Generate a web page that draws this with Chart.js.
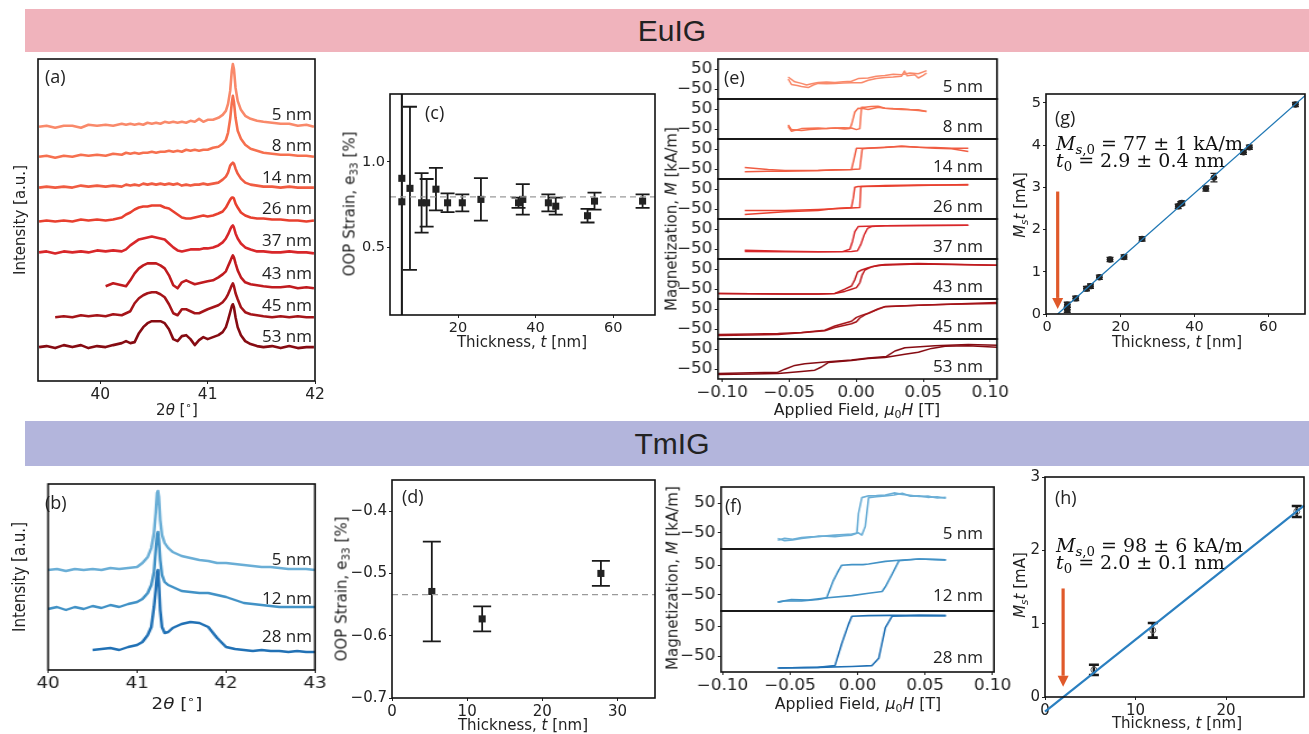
<!DOCTYPE html>
<html>
<head>
<meta charset="utf-8">
<title>EuIG / TmIG</title>
<script src="https://cdn.jsdelivr.net/npm/chart.js@4.4.1/dist/chart.umd.min.js"></script>
<style>
  html, body { margin: 0; padding: 0; background: #fff; }
  #fig { position: relative; width: 1309px; height: 734px; overflow: hidden; font-family: 'DejaVu Sans', sans-serif; color: #222; }
  #fig canvas { position: absolute; }
  .t { position: absolute; white-space: nowrap; font-size: 15px; line-height: 1; }
  .t sub { font-size: 70%; vertical-align: -0.3em; line-height: 0; }
  .t sup { font-size: 70%; vertical-align: 0.55em; line-height: 0; }
  .band { position: absolute; left: 25px; right: 0; }
  .math { font-family: 'DejaVu Serif', serif; font-size: 19px; line-height: 17px; color: #111; }
</style>
</head>
<body>
<div id="fig">
  <div class="band" style="top:9px;height:43px;background:#f0b3bc"></div>
  <div class="band" style="top:421px;height:45px;background:#b3b5dc"></div>
</div>
<script>
// ---- (a) EuIG XRD, 2theta grid and stacked intensities (a.u.) ----
const thetaA = [39.43, 39.50, 39.58, 39.66, 39.74, 39.82, 39.89, 39.97, 40.05, 40.12, 40.20,
  40.24, 40.28, 40.32, 40.36, 40.40, 40.44, 40.48, 40.52, 40.56, 40.60, 40.64, 40.68, 40.72,
  40.76, 40.80, 40.84, 40.88, 40.92, 40.96, 41.00, 41.05, 41.10, 41.14, 41.17, 41.19, 41.21,
  41.225, 41.235, 41.245, 41.26, 41.28, 41.31, 41.35, 41.40, 41.46, 41.52, 41.60, 41.68,
  41.76, 41.84, 41.92, 41.99];
const xrdEu5 = [255,256,254,256,256,254,257,256,257,256,258,257,258,257,258,257,259,258,259,258,260,259,260,259,260,259,261,260,263,260,262,262,264,267,271,278,291,311,318,313,294,281,272,266,263,261,260,259,258,258,256,257,255];
const xrdEu8 = [225,226,224,226,225,227,226,227,226,228,227,229,228,229,228,229,229,230,229,230,230,231,230,231,230,232,231,232,231,232,232,234,235,238,242,249,263,279,286,280,264,251,243,237,233,231,229,228,227,227,226,226,225];
const xrdEu14 = [194,195,194,195,194,196,195,196,195,196,195,197,196,197,196,198,197,198,197,198,197,198,197,198,196,197,196,197,197,198,197,198,199,202,205,209,216,218,219,218,213,208,203,199,197,196,195,195,194,195,194,194,194];
const xrdEu26 = [160,161,160,161,160,162,161,162,161,162,164,167,169,172,174,175,175,176,176,176,174,173,170,167,164,163,163,164,165,166,165,166,168,170,174,178,182,184,184,183,178,174,169,166,164,163,163,162,162,161,161,160,161];
const xrdEu37 = [129,130,128,130,129,130,129,131,130,131,130,132,136,139,142,143,144,145,144,143,142,138,134,131,130,131,132,132,132,133,133,134,136,139,143,147,152,155,156,154,148,143,138,134,132,130,130,129,129,130,129,129,128];
const xrdEu43 = [null,null,null,null,null,null,null,null,95,98,96,95,101,108,113,116,118,118,118,116,113,106,96,93,99,101,99,97,98,99,100,101,104,107,110,115,120,124,126,124,118,111,104,99,97,96,95,94,94,95,93,94,93];
const xrdEu45 = [null,null,64,65,64,66,65,66,65,67,66,68,70,78,83,86,88,89,89,87,84,77,68,66,72,72,70,68,68,70,72,74,76,79,83,87,92,96,98,95,88,82,74,69,67,66,65,64,65,64,65,64,64];
const xrdEu53 = [34,35,33,36,34,36,33,35,34,36,38,40,38,39,48,54,58,60,60,60,58,52,42,40,45,46,42,36,41,44,42,44,46,49,54,61,69,75,77,74,64,54,46,40,37,35,34,35,33,35,33,34,34];
const thickEu = ['5 nm', '8 nm', '14 nm', '26 nm', '37 nm', '43 nm', '45 nm', '53 nm'];

// ---- (b) TmIG XRD ----
const thetaB = [40.0, 40.1, 40.2, 40.3, 40.4, 40.5, 40.6, 40.7, 40.8, 40.9, 41.0, 41.06, 41.12,
  41.16, 41.19, 41.21, 41.225, 41.235, 41.245, 41.26, 41.28, 41.31, 41.35, 41.40, 41.45, 41.5,
  41.6, 41.7, 41.8, 41.9, 42.0, 42.1, 42.2, 42.3, 42.4, 42.5, 42.6, 42.7, 42.8, 42.9, 43.0];
const xrdTm5 = [100,101,99,101,100,101,100,102,101,102,103,107,113,122,137,157,177,179,173,150,135,127,122,118,116,114,112,110,109,107,107,106,105,104,103,103,102,101,101,101,100];
const xrdTm12 = [61,63,60,63,61,64,62,65,63,66,68,71,77,85,98,120,135,138,130,110,95,88,85,83,81,79,78,77,77,75,73,70,67,66,65,64,63,63,63,63,63];
const xrdTm28 = [null,null,null,null,null,20,21,22,20,23,25,28,35,43,63,80,97,100,87,60,43,37,38,42,44,46,48,47,43,32,23,21,20,19,20,19,19,18,19,18,18];
const thickTm = ['5 nm', '12 nm', '28 nm'];

// ---- (c) EuIG OOP strain ----
const tC = [5.5, 5.5, 7.6, 10.6, 11.9, 14.3, 17.3, 21.1, 25.9, 35.6, 36.7, 43.3, 45.2, 53.4, 55.2, 67.6];
const strainC = [0.904, 0.766, 0.845, 0.76, 0.76, 0.84, 0.76, 0.76, 0.78, 0.76, 0.78, 0.76, 0.74, 0.684, 0.77, 0.77];
const strainErrC = [1.2, 1.5, 0.48, 0.175, 0.14, 0.125, 0.055, 0.05, 0.125, 0.03, 0.09, 0.05, 0.05, 0.04, 0.05, 0.04];
const meanStrainC = 0.795;

// ---- (d) TmIG OOP strain ----
const tD = [5.3, 12.0, 27.8];
const strainD = [-0.529, -0.573, -0.50];
const strainErrD = [0.08, 0.02, 0.02];
const meanStrainD = -0.534;

// ---- (e) EuIG hysteresis loops [field T, M kA/m] ----
const e5Desc = [[0.0525,42],[0.0463,26],[0.0400,30],[0.0338,21],[0.0276,24],[0.0214,18],[0.0150,14],[0.0090,5],[0.0015,2],[-0.0035,-11],[-0.0097,-14],[-0.0159,-18],[-0.0221,-15],[-0.0284,-18],[-0.0333,-24],[-0.0370,-30],[-0.0408,-22],[-0.0458,-14],[-0.0507,10]];
const e5Asc = [[-0.0507,0],[-0.0483,-27],[-0.0440,-33],[-0.0408,-38],[-0.0358,-43],[-0.0320,-30],[-0.0284,-22],[-0.0221,-24],[-0.0159,-22],[-0.0097,-20],[-0.0035,-19],[0.0040,-19],[0.0090,-6],[0.0150,2],[0.0214,8],[0.0276,10],[0.0338,14],[0.0360,40],[0.0380,16],[0.0438,21],[0.0463,5],[0.0500,18],[0.0525,30]];
const e8Desc = [[0.0525,38],[0.0463,43],[0.0400,46],[0.0338,48],[0.0276,50],[0.0214,54],[0.0164,59],[0.0090,48],[0.0050,52],[0.0015,54],[-0.0010,35],[-0.0035,-29],[-0.0047,-48],[-0.0085,-50],[-0.0159,-45],[-0.0221,-48],[-0.0284,-50],[-0.0346,-52],[-0.0408,-58],[-0.0483,-53],[-0.0507,-29]];
const e8Asc = [[-0.0507,-37],[-0.0483,-61],[-0.0408,-48],[-0.0346,-46],[-0.0284,-45],[-0.0221,-47],[-0.0159,-45],[-0.0097,-44],[-0.0035,-45],[0.0002,-53],[0.0027,-48],[0.0040,59],[0.0065,59],[0.0110,62],[0.0164,64],[0.0214,54],[0.0276,52],[0.0338,51],[0.0400,48],[0.0463,46],[0.0525,38]];
const e14Desc = [[0.0836,54],[0.0711,54],[0.0587,57],[0.0463,59],[0.0338,64],[0.0214,59],[0.0065,54],[0.0002,54],[-0.0015,3],[-0.0035,-53],[-0.0159,-54],[-0.0284,-58],[-0.0532,-61],[-0.0657,-61],[-0.0831,-64]];
const e14Asc = [[-0.0831,-42],[-0.0657,-53],[-0.0532,-58],[-0.0284,-58],[-0.0035,-53],[0.0027,-50],[0.0045,51],[0.0090,54],[0.0214,58],[0.0338,64],[0.0463,59],[0.0587,54],[0.0711,51],[0.0836,38]];
const e26Desc = [[0.0836,72],[0.0463,67],[0.0214,64],[0.0015,62],[-0.0010,59],[-0.0022,3],[-0.0035,-42],[-0.0159,-48],[-0.0284,-58],[-0.0532,-64],[-0.0831,-77]];
const e26Asc = [[-0.0831,-58],[-0.0532,-58],[-0.0284,-53],[-0.0035,-45],[0.0027,-42],[0.0035,62],[0.0214,67],[0.0463,70],[0.0836,70]];
const e37Desc = [[0.0836,69],[0.0463,67],[0.0214,66],[0.0015,62],[-0.0010,37],[-0.0027,-11],[-0.0047,-51],[-0.0097,-62],[-0.0284,-64],[-0.0532,-64],[-0.0831,-62]];
const e37Asc = [[-0.0831,-56],[-0.0532,-61],[-0.0284,-64],[-0.0035,-62],[0.0010,-59],[0.0035,-27],[0.0060,21],[0.0085,53],[0.0114,62],[0.0214,66],[0.0463,67],[0.0836,69]];
const e43Desc = [[0.1052,69],[0.0711,74],[0.0463,77],[0.0214,72],[0.0164,69],[0.0090,56],[0.0040,45],[0.0010,34],[-0.0010,-3],[-0.0035,-35],[-0.0085,-51],[-0.0159,-72],[-0.0284,-75],[-0.0532,-75],[-0.1030,-72]];
const e43Asc = [[-0.1030,-72],[-0.0532,-75],[-0.0284,-75],[-0.0159,-72],[-0.0085,-62],[-0.0035,-51],[0.0002,-43],[0.0027,-19],[0.0045,21],[0.0065,45],[0.0114,61],[0.0189,69],[0.0463,75],[0.1052,69]];
const e45Desc = [[0.1052,77],[0.0711,74],[0.0463,69],[0.0214,61],[0.0164,50],[0.0090,29],[0.0040,18],[0.0002,8],[-0.0035,-11],[-0.0159,-35],[-0.0234,-56],[-0.0408,-67],[-0.0582,-72],[-0.0781,-75],[-0.1030,-78]];
const e45Asc = [[-0.1030,-83],[-0.0781,-80],[-0.0582,-78],[-0.0408,-69],[-0.0234,-59],[-0.0159,-43],[-0.0035,-24],[0.0002,-14],[0.0027,5],[0.0065,21],[0.0164,50],[0.0214,62],[0.0463,69],[0.1052,82]];
const e53Desc = [[0.1052,69],[0.0836,72],[0.0587,66],[0.0363,56],[0.0289,40],[0.0226,13],[0.0090,5],[-0.0035,-5],[-0.0209,-14],[-0.0383,-24],[-0.0458,-32],[-0.0532,-51],[-0.0582,-66],[-0.0781,-69],[-0.1030,-72]];
const e53Asc = [[-0.1030,-78],[-0.0781,-75],[-0.0582,-72],[-0.0408,-62],[-0.0308,-56],[-0.0259,-40],[-0.0209,-18],[-0.0035,-8],[0.0090,2],[0.0214,8],[0.0363,24],[0.0463,34],[0.0562,53],[0.0662,64],[0.0836,66],[0.1052,59]];

// ---- (f) TmIG hysteresis loops ----
const f5Asc = [[-0.059,-75],[-0.054,-69],[-0.048,-72],[-0.0415,-66],[-0.035,-64],[-0.029,-63],[-0.023,-60],[-0.0167,-58],[-0.010,-56],[-0.0042,-54],[0.0007,-50],[0.0032,-58],[0.0057,-29],[0.0082,69],[0.014,72],[0.0206,75],[0.027,78],[0.0331,84],[0.039,74],[0.0455,75],[0.052,70],[0.059,72],[0.0654,67]];
const f5Desc = [[0.0654,70],[0.059,68],[0.052,74],[0.0455,73],[0.039,77],[0.0331,80],[0.027,85],[0.0206,78],[0.014,76],[0.0082,75],[0.0032,69],[0.0007,16],[-0.0005,-52],[-0.0042,-58],[-0.010,-60],[-0.0167,-63],[-0.023,-62],[-0.029,-61],[-0.035,-66],[-0.0415,-69],[-0.048,-74],[-0.054,-77],[-0.059,-69]];
const f12Asc = [[-0.059,-75],[-0.054,-70],[-0.049,-66],[-0.0366,-68],[-0.0241,-61],[-0.0042,-53],[0.0082,-45],[0.0182,-39],[0.0206,-23],[0.0256,20],[0.0306,65],[0.0455,71],[0.0654,68]];
const f12Desc = [[0.0654,68],[0.0455,71],[0.0306,67],[0.0206,63],[0.0082,54],[0.0040,52],[-0.0042,52],[-0.0117,50],[-0.0142,31],[-0.0179,-2],[-0.0229,-61],[-0.0291,-66],[-0.0415,-71],[-0.054,-71],[-0.059,-75]];
const f28Asc = [[-0.059,-91],[-0.0291,-89],[-0.0042,-86],[0.0107,-83],[0.0157,-58],[0.0206,48],[0.0256,87],[0.0455,90],[0.0654,89]];
const f28Desc = [[0.0654,89],[0.0256,90],[0.0082,89],[-0.0042,87],[-0.0067,59],[-0.0117,-8],[-0.0167,-83],[-0.0291,-89],[-0.059,-91]];

// ---- (g) EuIG Ms*t vs thickness ----
const tG = [5.5, 5.5, 7.8, 10.7, 11.8, 14.2, 17.1, 20.9, 25.8, 35.6, 36.3, 36.6, 43.1, 45.3, 53.3, 54.9, 67.4];
const mstG = [0.22, 0.10, 0.37, 0.60, 0.66, 0.87, 1.29, 1.35, 1.78, 2.55, 2.61, 2.63, 2.97, 3.23, 3.83, 3.95, 4.96];
const mstErrG = [0.06, 0.06, 0.05, 0.05, 0.05, 0.05, 0.05, 0.05, 0.05, 0.05, 0.05, 0.05, 0.06, 0.1, 0.05, 0.05, 0.05];
const fitGt = [2.9, 70];
const fitGm = [0, 5.17];

// ---- (h) TmIG Ms*t vs thickness ----
const tH = [5.4, 11.9, 27.8];
const mstH = [0.37, 0.91, 2.53];
const mstErrH = [0.07, 0.1, 0.075];
const fitHt = [0, 28.6];
const fitHm = [-0.2, 2.61];

// tick values
const xTicksA = [40, 41, 42], xTicksB = [40, 41, 42, 43];
const xTicksC = [20, 40, 60], yTicksC = [0.5, 1.0];
const xTicksD = [0, 10, 20, 30], yTicksD = [-0.7, -0.6, -0.5, -0.4];
const fieldTicks = [-0.10, -0.05, 0, 0.05, 0.10], mTicks = [-50, 50];
const xTicksG = [0, 20, 40, 60], yTicksG = [0, 1, 2, 3, 4, 5];
const xTicksH = [0, 10, 20], yTicksH = [0, 1, 2, 3];

const reds = ['#f9896a', '#f6704f', '#f05c42', '#e8402f', '#d8272a', '#c01b1f', '#a51419', '#860b12'];
const blues = ['#6aaed6', '#4292c6', '#2171b5'];
const INK = '#222';
const ARROW = '#e0592a';

const fig = document.getElementById('fig');

// frame on all four sides, like matplotlib spines
const framePlugin = {
  id: 'frame',
  afterDraw(chart) {
    const { ctx, chartArea: a } = chart;
    ctx.save();
    ctx.strokeStyle = '#111';
    ctx.lineWidth = 1.6;
    ctx.strokeRect(a.left, a.top, a.right - a.left, a.bottom - a.top);
    ctx.restore();
  }
};

// vertical (and optional horizontal) error bars read from dataset.yErr / xErr
const errorPlugin = {
  id: 'errbars',
  beforeDatasetsDraw(chart) {
    const { ctx, chartArea: a, scales: { x, y } } = chart;
    ctx.save();
    ctx.beginPath();
    ctx.rect(a.left, a.top, a.right - a.left, a.bottom - a.top);
    ctx.clip();
    chart.data.datasets.forEach(ds => {
      if (!ds.yErr) return;
      ctx.strokeStyle = ds.errColor || '#111';
      ctx.lineWidth = ds.errWidth || 1.5;
      const cap = ds.capHalf || 6;
      ds.data.forEach((p, i) => {
        const px = x.getPixelForValue(p.x);
        const hi = y.getPixelForValue(p.y + ds.yErr[i]);
        const lo = y.getPixelForValue(p.y - ds.yErr[i]);
        ctx.beginPath();
        ctx.moveTo(px, hi); ctx.lineTo(px, lo);
        ctx.moveTo(px - cap, hi); ctx.lineTo(px + cap, hi);
        ctx.moveTo(px - cap, lo); ctx.lineTo(px + cap, lo);
        if (ds.xErr) {
          const py = y.getPixelForValue(p.y);
          ctx.moveTo(x.getPixelForValue(p.x - ds.xErr), py);
          ctx.lineTo(x.getPixelForValue(p.x + ds.xErr), py);
        }
        ctx.stroke();
      });
    });
    ctx.restore();
  }
};

// downward arrow at t0
const arrowPlugin = {
  id: 'arrow',
  afterDatasetsDraw(chart, args, o) {
    if (!o || o.x === undefined) return;
    const { ctx, scales: { x, y } } = chart;
    const px = x.getPixelForValue(o.x);
    const y0 = y.getPixelForValue(o.from), y1 = y.getPixelForValue(o.to);
    ctx.save();
    ctx.strokeStyle = ctx.fillStyle = o.color;
    ctx.lineWidth = o.width;
    ctx.beginPath(); ctx.moveTo(px, y0); ctx.lineTo(px, y1 - o.head); ctx.stroke();
    ctx.beginPath();
    ctx.moveTo(px - o.head * 0.5, y1 - o.head);
    ctx.lineTo(px + o.head * 0.5, y1 - o.head);
    ctx.lineTo(px, y1);
    ctx.closePath(); ctx.fill();
    ctx.restore();
  }
};

const fmt = d => v => (v < 0 ? '\u2212' : '') + Math.abs(v).toFixed(d);

function axis(min, max, ticks, cb, show = true, size = 15) {
  return {
    type: 'linear', min, max,
    afterBuildTicks: s => { s.ticks = ticks.map(v => ({ value: v })); },
    border: { display: false },
    grid: { display: show, drawOnChartArea: false, tickLength: 3, color: INK, lineWidth: 1 },
    ticks: { display: show, padding: 2, color: INK, font: { family: 'DejaVu Sans', size },
             maxRotation: 0, autoSkip: false, callback: cb || (v => v) }
  };
}

// box = plot area in page pixels, pad = [left, top, right, bottom] room around it
// (top/bottom >= 12 so Chart.js does not shrink the area for the y tick labels).
// sx > 1 draws on a narrower canvas that css stretches sideways, as the source panels were.
function makeChart(box, pad, datasets, xs, ys, plugOpts = {}, sx = 1) {
  const c = document.createElement('canvas');
  const w = box.w + pad[0] + pad[2], h = box.h + pad[1] + pad[3];
  c.width = Math.round(w / sx); c.height = h;
  c.style.left = (box.x - pad[0]) + 'px';
  c.style.top = (box.y - pad[1]) + 'px';
  c.style.width = w + 'px';
  c.style.height = h + 'px';
  fig.appendChild(c);
  xs.afterFit = s => { s.height = pad[3]; };
  ys.afterFit = s => { s.width = pad[0] / sx; };
  return new Chart(c, {
    type: 'scatter',
    data: { datasets },
    options: {
      responsive: false, animation: false, events: [],
      layout: { padding: { left: 0, top: pad[1], right: pad[2] / sx, bottom: 0 } },
      scales: { x: xs, y: ys },
      plugins: Object.assign({ legend: { display: false }, tooltip: { enabled: false } }, plugOpts)
    },
    plugins: [errorPlugin, arrowPlugin, framePlugin]
  });
}

function line(points, color, width, extra = {}) {
  return Object.assign({ data: points, showLine: true, borderColor: color, borderWidth: width,
    pointRadius: 0, tension: 0, borderJoinStyle: 'round' }, extra);
}
const curve = (xs, ys) => xs.map((x, i) => ({ x, y: ys[i] })).filter(p => p.y !== null);
const pairs = arr => arr.map(([x, y]) => ({ x, y }));

function txt(html, x, y, o = {}) {
  const d = document.createElement('div');
  d.className = 't' + (o.cls ? ' ' + o.cls : '');
  d.innerHTML = html;
  d.style.left = x + 'px';
  d.style.top = y + 'px';
  if (o.size) d.style.fontSize = o.size + 'px';
  if (o.font) d.style.fontFamily = o.font;
  const ax = o.align === 'right' ? '-100%' : o.align === 'left' ? '0' : '-50%';
  const ay = o.top ? '0' : '-50%';
  d.style.transform = `translate(${ax},${ay})` + (o.sx ? ` scale(${o.sx},1)` : '') + (o.rot ? ' rotate(-90deg)' : '');
  fig.appendChild(d);
}
const LBL = { size: 17, font: "'Open Sans', sans-serif", align: 'right' };
const LET = { size: 18, font: "'Open Sans', sans-serif", align: 'left' };

// banners
txt('EuIG', 672, 31, { size: 30, font: "'Liberation Sans', Arial, sans-serif" });
txt('TmIG', 672, 444, { size: 30, font: "'Liberation Sans', Arial, sans-serif" });

// (a)
const xrdEu = [xrdEu5, xrdEu8, xrdEu14, xrdEu26, xrdEu37, xrdEu43, xrdEu45, xrdEu53];
makeChart({ x: 38, y: 59, w: 277, h: 322 }, [4, 4, 14, 24],
  xrdEu.map((c, i) => line(curve(thetaA, c), reds[i], 2.6)),
  axis(39.42, 42, xTicksA, fmt(0), true, 15.5), axis(0, 323, [], null, false));
const labelYA = [113, 144, 176, 207, 239, 272, 304, 335];
thickEu.forEach((s, i) => txt(s, 312, labelYA[i], LBL));
txt('(a)', 45, 76, LET);
txt('Intensity [a.u.]', 20, 220, { rot: true });
txt('2<i>θ</i> [<sup>∘</sup>]', 177, 410);

// (b) - source panel is stretched sideways
const SXB = 1.22;
const xrdTm = [xrdTm5, xrdTm12, xrdTm28];
makeChart({ x: 38, y: 484, w: 277, h: 186 }, [4, 4, 18, 24],
  xrdTm.map((c, i) => line(curve(thetaB, c), blues[i], 2.4)),
  axis(40, 43, xTicksB, fmt(0)), axis(0, 186, [], null, false), {}, SXB);
const labelYB = [558, 597, 635];
thickTm.forEach((s, i) => txt(s, 312, labelYB[i], LBL));
txt('(b)', 45, 502, LET);
txt('Intensity [a.u.]', 20, 577, { rot: true, sx: SXB });
txt('2<i>θ</i> [<sup>∘</sup>]', 177, 704, { sx: SXB });

// (c)
const rangeC = [2.45, 70.8];
makeChart({ x: 390, y: 94, w: 265, h: 221 }, [40, 12, 14, 24], [
  line(rangeC.map(x => ({ x, y: meanStrainC })), '#9a9a9a', 1.2, { borderDash: [6, 4] }),
  { data: curve(tC, strainC), pointStyle: 'rect', pointRadius: 5, backgroundColor: '#222', borderWidth: 0,
    yErr: strainErrC, capHalf: 7, errWidth: 1.8, errColor: '#1a1a1a' }
], axis(rangeC[0], rangeC[1], xTicksC, fmt(0), true, 14.5), axis(0.1, 1.4, yTicksC, fmt(1), true, 14.5));
txt('(c)', 425, 112, LET);
txt('OOP Strain, e<sub>33</sub> [%]', 350, 204, { rot: true });
txt('Thickness, <i>t</i> [nm]', 522, 342);

// (d)
const rangeD = [0, 35];
makeChart({ x: 392, y: 480, w: 263, h: 218 }, [48, 12, 14, 24], [
  line(rangeD.map(x => ({ x, y: meanStrainD })), '#9a9a9a', 1.2, { borderDash: [6, 4] }),
  { data: curve(tD, strainD), pointStyle: 'rect', pointRadius: 5, backgroundColor: '#222', borderWidth: 0,
    yErr: strainErrD, capHalf: 9, errWidth: 1.8, errColor: '#1a1a1a' }
], axis(rangeD[0], rangeD[1], xTicksD, fmt(0)), axis(-0.70, -0.35, yTicksD, fmt(1)));
txt('(d)', 402, 496, LET);
txt('OOP Strain, e<sub>33</sub> [%]', 342, 589, { rot: true });
txt('Thickness, <i>t</i> [nm]', 523, 725);

// (e)
const SXE = 1.12;
const loopsEu = [[e5Desc, e5Asc], [e8Desc, e8Asc], [e14Desc, e14Asc], [e26Desc, e26Asc],
                 [e37Desc, e37Asc], [e43Desc, e43Asc], [e45Desc, e45Asc], [e53Desc, e53Asc]];
loopsEu.forEach(([d, a], k) => {
  const last = k === loopsEu.length - 1;
  const box = { x: 718, y: 59 + 40 * k, w: 279, h: 40 };
  makeChart(box, [48, 12, 18, last ? 24 : 12],
    [line(pairs(d), reds[k], 1.5), line(pairs(a), reds[k], 1.5)],
    axis(-0.103, 0.105, fieldTicks, fmt(2), last), axis(-100, 100, mTicks, fmt(0)), {}, SXE);
  txt(thickEu[k], 983, box.y + 25.5, LBL);
});
txt('(e)', 724, 77, LET);
txt('Magnetization, <i>M</i> [kA/m]', 672, 219, { rot: true });
txt('Applied Field, <i>μ</i><sub>0</sub><i>H</i> [T]', 857, 410, { sx: 1.05 });

// (f)
const loopsTm = [[f5Desc, f5Asc], [f12Desc, f12Asc], [f28Desc, f28Asc]];
const topsF = [487, 549, 611], hF = [62, 62, 61];
loopsTm.forEach(([d, a], k) => {
  const last = k === loopsTm.length - 1;
  const box = { x: 721, y: topsF[k], w: 273, h: hF[k] };
  makeChart(box, [48, 12, 20, last ? 24 : 12],
    [line(pairs(d), blues[k], 1.6), line(pairs(a), blues[k], 1.6)],
    axis(-0.101, 0.101, fieldTicks, fmt(2), last), axis(-105, 105, mTicks, fmt(0)), {}, SXE);
  txt(thickTm[k], 983, box.y + 44.5, LBL);
});
txt('(f)', 725, 505, LET);
txt('Magnetization, <i>M</i> [kA/m]', 673, 578, { rot: true });
txt('Applied Field, <i>μ</i><sub>0</sub><i>H</i> [T]', 858, 704, { sx: 1.05 });

// (g)
makeChart({ x: 1046, y: 94, w: 263, h: 220 }, [20, 12, 0, 24], [
  line(curve(fitGt, fitGm), '#1f77b4', 1.3),
  { data: curve(tG, mstG), pointStyle: 'circle', pointRadius: 3.2, backgroundColor: '#222', borderWidth: 0,
    yErr: mstErrG, xErr: 0.9, capHalf: 3.5, errWidth: 1.4, errColor: '#222' }
], axis(-0.27, 70, xTicksG, fmt(0), true, 14.5), axis(0, 5.21, yTicksG, fmt(0), true, 14.5),
  { arrow: { x: 2.9, from: 2.9, to: 0.12, color: ARROW, width: 3.2, head: 11 } });
txt('(g)', 1055, 117, LET);
txt('<i>M<sub>s</sub>t</i> [mA]', 1020, 205, { rot: true });
txt('Thickness, <i>t</i> [nm]', 1177, 342);
txt('<i>M</i><sub><i>s</i>,0</sub> = 77 ± 1 kA/m<br><i>t</i><sub>0</sub> = 2.9 ± 0.4 nm', 1056, 135,
  { cls: 'math', align: 'left', top: true });

// (h)
makeChart({ x: 1045, y: 477, w: 264, h: 220 }, [20, 12, 0, 24], [
  line(curve(fitHt, fitHm), '#2a7fc0', 2.2, { clip: false }),
  { data: curve(tH, mstH), pointStyle: 'circle', pointRadius: 3, backgroundColor: 'rgba(0,0,0,0)',
    borderColor: '#666', borderWidth: 1,
    yErr: mstErrH, capHalf: 5, errWidth: 2.6, errColor: '#1a1a1a' }
], axis(0, 28.6, xTicksH, fmt(0)), axis(0, 3, yTicksH, fmt(0)),
  { arrow: { x: 2.0, from: 1.48, to: 0.14, color: ARROW, width: 3.2, head: 11 } });
txt('(h)', 1055, 497, LET);
txt('<i>M<sub>s</sub>t</i> [mA]', 1020, 585, { rot: true });
txt('Thickness, <i>t</i> [nm]', 1177, 723);
txt('<i>M</i><sub><i>s</i>,0</sub> = 98 ± 6 kA/m<br><i>t</i><sub>0</sub> = 2.0 ± 0.1 nm', 1056, 537,
  { cls: 'math', align: 'left', top: true });
</script>
</body>
</html>
